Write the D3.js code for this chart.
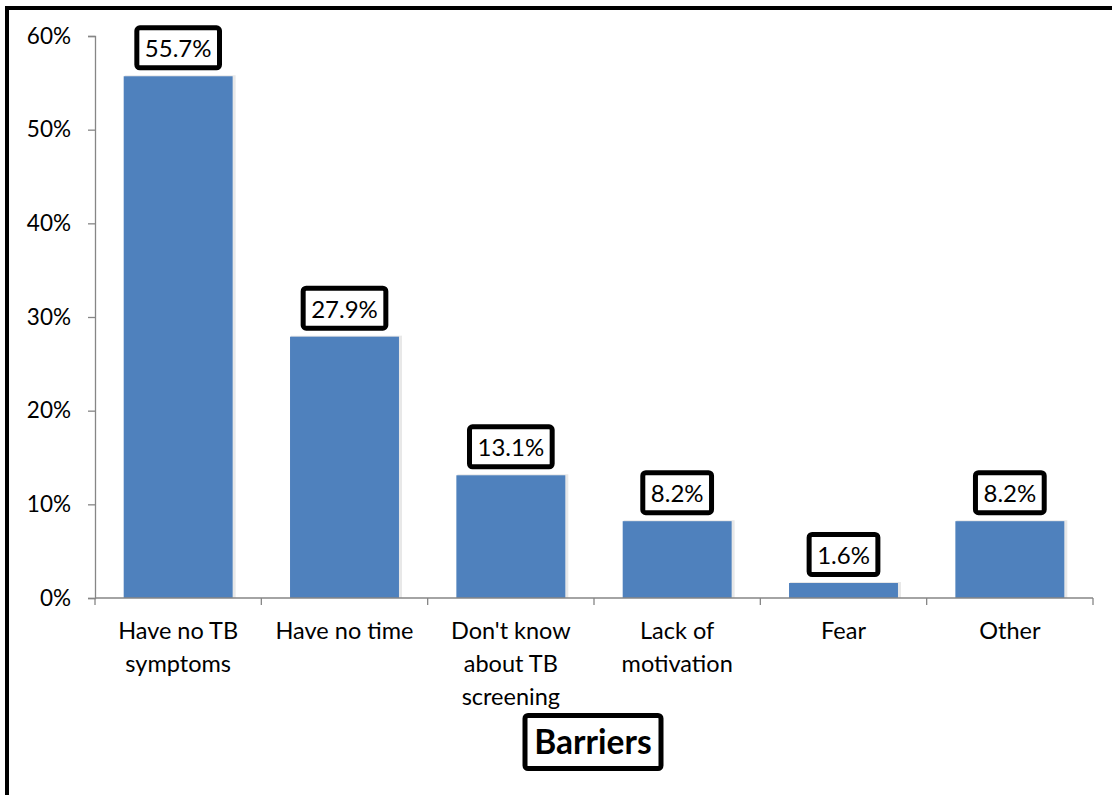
<!DOCTYPE html>
<html><head><meta charset="utf-8">
<script src="https://cdn.jsdelivr.net/npm/d3@7"></script>
<style>body{margin:0;background:#fff}svg{display:block}</style>
</head><body>
<script>
const categories = [["Have no TB","symptoms"],["Have no time"],["Don't know","about TB","screening"],["Lack of","motivation"],["Fear"],["Other"]];
const values = [55.7, 27.9, 13.1, 8.2, 1.6, 8.2];
const yTicks = [0, 10, 20, 30, 40, 50, 60];
const axisTitle = "Barriers";

const W = 1112, H = 795;
const font = "Lato, 'Open Sans', sans-serif";
const svg = d3.select("body").append("svg").attr("width", W).attr("height", H);

// outer border
svg.append("rect").attr("x", 7).attr("y", 8).attr("width", 1300).attr("height", 1000)
  .attr("fill", "none").attr("stroke", "#000").attr("stroke-width", 4);

const x0 = 95, x1 = 1093, yTop = 36, yBot = 598;
const x = d3.scaleBand().domain(d3.range(values.length)).range([x0, x1]).paddingInner(0.345).paddingOuter(0.1725);
const y = d3.scaleLinear().domain([0, 60]).range([yBot, yTop]);

// bar shadows
svg.append("g").selectAll("rect").data(values).join("rect")
  .attr("x", (d, i) => x(i) + 1).attr("y", d => y(d) - 1)
  .attr("width", x.bandwidth() + 2).attr("height", d => yBot - y(d) + 1)
  .attr("fill", "#d9d9d9").attr("opacity", 0.6);
// bars
svg.append("g").selectAll("rect").data(values).join("rect")
  .attr("x", (d, i) => x(i)).attr("y", d => y(d))
  .attr("width", x.bandwidth()).attr("height", d => yBot - y(d))
  .attr("fill", "#4F81BD");

// y axis
const ya = svg.append("g").attr("transform", `translate(${x0},0)`)
  .call(d3.axisLeft(y).tickValues(yTicks).tickFormat(d => d + "%").tickSize(7).tickSizeOuter(7));
ya.select(".domain").attr("stroke", "#868686").attr("stroke-width", 1.3);
ya.selectAll(".tick line").attr("stroke", "#868686").attr("stroke-width", 1.3);
ya.selectAll(".tick text").attr("font-family", font).attr("font-size", 22.5).attr("fill", "#000").attr("x", -24);

// x axis
const step = x.step();
svg.append("line").attr("x1", x0).attr("x2", x1).attr("y1", yBot).attr("y2", yBot)
  .attr("stroke", "#868686").attr("stroke-width", 1.3);
svg.append("g").selectAll("line").data(d3.range(values.length + 1)).join("line")
  .attr("x1", i => x0 + i * step).attr("x2", i => x0 + i * step)
  .attr("y1", yBot).attr("y2", yBot + 7)
  .attr("stroke", "#868686").attr("stroke-width", 1.3);

// category labels
const cl = svg.append("g").selectAll("text").data(categories).join("text")
  .attr("font-family", font).attr("font-size", 23.5).attr("text-anchor", "middle").attr("fill", "#000");
cl.each(function(lines, i) {
  d3.select(this).selectAll("tspan").data(lines).join("tspan")
    .attr("x", x(i) + x.bandwidth() / 2).attr("y", (l, j) => 639 + j * 33).text(l => l);
});

// data labels with boxes
const lg = svg.append("g").selectAll("g").data(values).join("g")
  .attr("transform", (d, i) => `translate(${x(i) + x.bandwidth() / 2},${y(d) - 6})`);
lg.append("text").attr("class", "vl").attr("font-family", font).attr("font-size", 24)
  .attr("text-anchor", "middle").attr("y", -13).text(d => d.toFixed(1) + "%");
lg.each(function() {
  const g = d3.select(this);
  const bb = g.select("text").node().getBBox();
  const w = bb.width + 16, h = 40;
  g.insert("rect", "text").attr("x", -w / 2).attr("y", -h - 2.5).attr("width", w).attr("height", h)
    .attr("rx", 3).attr("fill", "#fff").attr("stroke", "#000").attr("stroke-width", 5);
});

// axis title
const tg = svg.append("g").attr("transform", "translate(593,742)");
tg.append("text").attr("font-family", font).attr("font-size", 33.5).attr("font-weight", "bold")
  .attr("text-anchor", "middle").attr("y", 12).text(axisTitle);
tg.insert("rect", "text").attr("x", -68).attr("y", -26.5).attr("width", 136).attr("height", 53)
  .attr("rx", 3).attr("fill", "#fff").attr("stroke", "#000").attr("stroke-width", 5);
</script>
</body></html>
